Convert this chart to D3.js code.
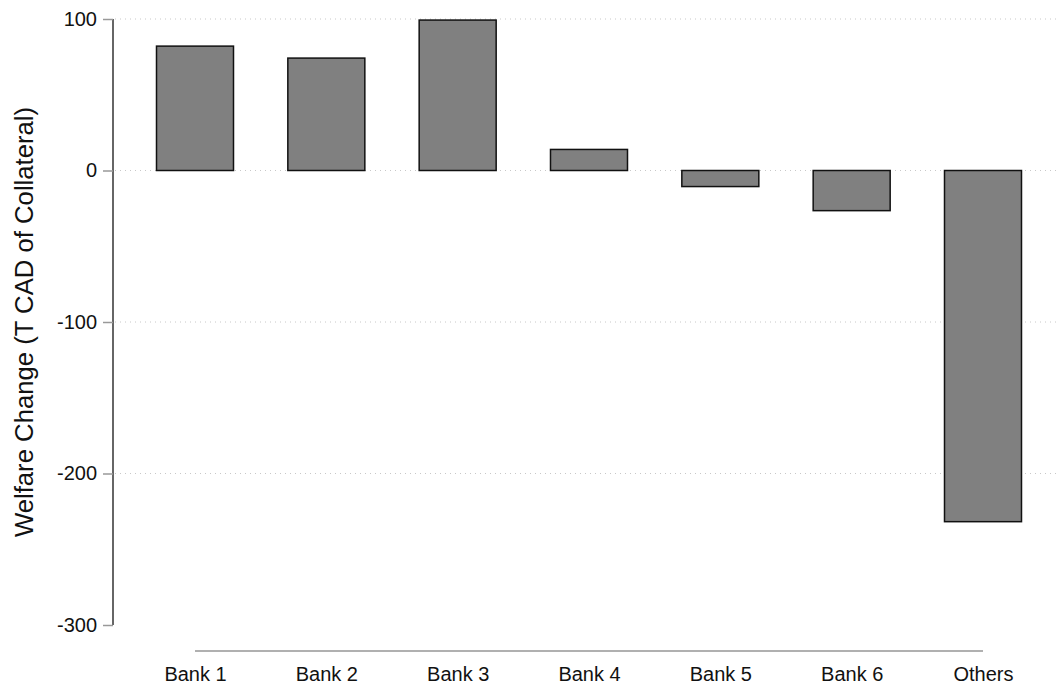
<!DOCTYPE html>
<html><head><meta charset="utf-8">
<script src="https://cdn.jsdelivr.net/npm/d3@7"></script>
<style>body{margin:0;background:#fff}svg{display:block;font-family:"Liberation Sans",Arial,sans-serif}</style>
</head><body><svg id="c" width="1056" height="687"></svg>
<script>
const categories = ["Bank 1","Bank 2","Bank 3","Bank 4","Bank 5","Bank 6","Others"];
const values = [82.1, 74.2, 99.3, 13.9, -10.6, -26.5, -231.8];
const yTicks = [100, 0, -100, -200, -300];
const yTitle = "Welfare Change (T CAD of Collateral)";

const svg = d3.select("#c");
const y = d3.scaleLinear().domain([-300, 100]).range([625, 19]);
const x = d3.scalePoint().domain(categories).range([195, 983]);
const barW = 77;
const axisX = 113;
const fontFam = "Liberation Sans, Arial, sans-serif";

// gridlines
svg.append("g").selectAll("line").data(yTicks.filter(d => d !== -300)).join("line")
  .attr("x1", axisX + 2).attr("x2", 1056)
  .attr("y1", d => y(d)).attr("y2", d => y(d))
  .attr("stroke", "#c8c8c8").attr("stroke-width", 1).attr("stroke-dasharray", "1,4");

// bars
svg.append("g").selectAll("rect").data(values).join("rect")
  .attr("x", (d, i) => x(categories[i]) - barW / 2)
  .attr("width", barW)
  .attr("y", d => y(Math.max(0, d)))
  .attr("height", d => Math.abs(y(d) - y(0)))
  .attr("fill", "#808080").attr("stroke", "#111").attr("stroke-width", 1.5);

// y axis
const yAxis = d3.axisLeft(y).tickValues(yTicks).tickSize(10).tickPadding(6).tickFormat(d => String(d));
const ga = svg.append("g").attr("transform", `translate(${axisX},0)`).call(yAxis);
ga.select(".domain").attr("stroke", "#333").attr("stroke-width", 1.5).attr("d", `M0,${y(100)}V${y(-300)}`);
ga.selectAll(".tick line").attr("stroke", "#999").attr("stroke-width", 1.5);
ga.selectAll(".tick text").attr("font-size", 20).attr("fill", "#111").attr("font-family", fontFam);

// x axis
const xAxis = d3.axisBottom(x).tickSize(0).tickPadding(16);
const gx = svg.append("g").attr("transform", "translate(0,651)").call(xAxis);
gx.select(".domain").attr("stroke", "#b0b0b0").attr("stroke-width", 2).attr("d", `M${x(categories[0])},0H${x(categories[categories.length-1])}`);
gx.selectAll(".tick text").attr("font-size", 20).attr("fill", "#111").attr("font-family", fontFam);

// y title
svg.append("text").attr("transform", `translate(33,${(y(100)+y(-300))/2}) rotate(-90)`)
  .attr("text-anchor", "middle").attr("font-size", 25.7).attr("fill", "#111").attr("font-family", fontFam).text(yTitle);
</script></body></html>
